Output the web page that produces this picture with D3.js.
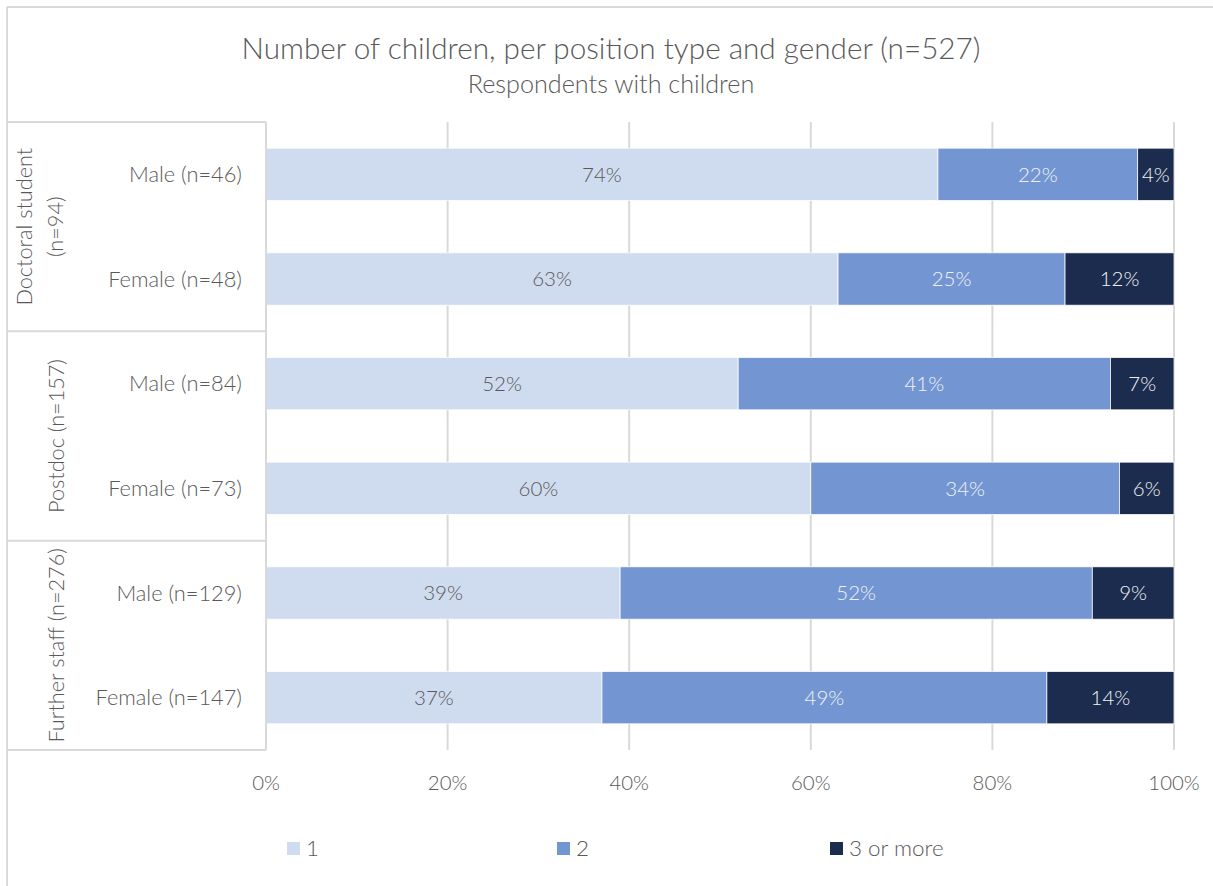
<!DOCTYPE html>
<html>
<head>
<meta charset="utf-8">
<script src="https://cdn.jsdelivr.net/npm/d3@7"></script>
<style>
  html, body { margin: 0; padding: 0; background: #fff; }
  svg { display: block; }
  text { font-family: "Source Sans Pro", Lato, "Open Sans", sans-serif; font-weight: 300; }
</style>
</head>
<body>
<svg id="chart" width="1213" height="886"></svg>
<script>
// Position groups and the gender rows within each group
const groups = ["Doctoral student (n=94)", "Postdoc (n=157)", "Further staff (n=276)"];
const groupLines = [["Doctoral student", "(n=94)"], ["Postdoc (n=157)"], ["Further staff (n=276)"]];
const rows = [
  "Male (n=46)", "Female (n=48)",
  "Male (n=84)", "Female (n=73)",
  "Male (n=129)", "Female (n=147)"
];
const rowGroup = [0, 0, 1, 1, 2, 2];

// Share of respondents by number of children (percent)
const seriesNames = ["1", "2", "3 or more"];
const one       = [74, 63, 52, 60, 39, 37];
const two       = [22, 25, 41, 34, 52, 49];
const threePlus = [4, 12, 7, 6, 9, 14];

const xTicks = [0, 20, 40, 60, 80, 100];

const colors = ["#CFDCEF", "#7396D2", "#1B2C4E"];
const labelColors = ["#595959", "#F2F2F2", "#F2F2F2"];

const svg = d3.select("#chart");
const W = 1213, H = 886;
const textColor = "#595959";
const lineColor = "#D9D9D9";

// Outer chart frame (only top and left edges are visible)
svg.append("line").attr("x1", 7).attr("x2", W).attr("y1", 7).attr("y2", 7)
  .attr("stroke", lineColor).attr("stroke-width", 2);
svg.append("line").attr("x1", 7).attr("x2", 7).attr("y1", 7).attr("y2", H)
  .attr("stroke", lineColor).attr("stroke-width", 2);

// Title
svg.append("text").attr("x", 611).attr("y", 59).attr("text-anchor", "middle")
  .attr("font-size", 29.7).attr("fill", textColor)
  .text("Number of children, per position type and gender (n=527)");
svg.append("text").attr("x", 611).attr("y", 93).attr("text-anchor", "middle")
  .attr("font-size", 25.2).attr("fill", textColor)
  .text("Respondents with children");

const plotLeft = 266, plotRight = 1174, plotTop = 122, plotBottom = 750;

const x = d3.scaleLinear().domain([0, 100]).range([plotLeft, plotRight]);
const y = d3.scaleBand().domain(d3.range(rows.length)).range([plotTop, plotBottom]).paddingInner(0.5).paddingOuter(0.25);

// Gridlines
svg.append("g").selectAll("line").data(xTicks.slice(1)).join("line")
  .attr("x1", d => x(d)).attr("x2", d => x(d))
  .attr("y1", plotTop).attr("y2", plotBottom)
  .attr("stroke", lineColor).attr("stroke-width", 2);

// Stacked bars
const table = rows.map((r, i) => ({ row: i, "1": one[i], "2": two[i], "3 or more": threePlus[i] }));
const stacked = d3.stack().keys(seriesNames)(table);

const barG = svg.append("g");
stacked.forEach((layer, k) => {
  const g = barG.append("g");
  g.selectAll("rect").data(layer).join("rect")
    .attr("x", d => x(d[0]))
    .attr("y", (d, i) => y(i))
    .attr("width", d => x(d[1]) - x(d[0]))
    .attr("height", y.bandwidth())
    .attr("fill", colors[k])
    .attr("stroke", "#fff").attr("stroke-width", 0.75);
  g.selectAll("text").data(layer).join("text")
    .attr("x", d => (x(d[0]) + x(d[1])) / 2)
    .attr("y", (d, i) => y(i) + y.bandwidth() / 2)
    .attr("dy", "0.35em")
    .attr("text-anchor", "middle")
    .attr("font-size", 20.5)
    .attr("fill", labelColors[k])
    .text(d => (d[1] - d[0]) + "%");
});

// Category axis: box lines and labels
const axisG = svg.append("g");
const groupEdges = [plotTop];
groups.forEach((g, gi) => {
  const idx = rowGroup.map((v, i) => v === gi ? i : -1).filter(i => i >= 0);
  const last = idx[idx.length - 1];
  groupEdges.push(y(last) + y.bandwidth() + y.step() * y.paddingInner() / 2);
});
groupEdges[groupEdges.length - 1] = plotBottom;

axisG.selectAll("line.sep").data(groupEdges).join("line")
  .attr("class", "sep")
  .attr("x1", 7).attr("x2", plotLeft)
  .attr("y1", d => d).attr("y2", d => d)
  .attr("stroke", lineColor).attr("stroke-width", 2);
axisG.append("line").attr("x1", plotLeft).attr("x2", plotLeft)
  .attr("y1", plotTop).attr("y2", plotBottom)
  .attr("stroke", lineColor).attr("stroke-width", 2);

axisG.selectAll("text.row").data(rows).join("text")
  .attr("class", "row")
  .attr("x", 242)
  .attr("y", (d, i) => y(i) + y.bandwidth() / 2)
  .attr("dy", "0.35em")
  .attr("text-anchor", "end")
  .attr("font-size", 21.8)
  .attr("fill", textColor)
  .text(d => d);

groupLines.forEach((lines, gi) => {
  const cy = (groupEdges[gi] + groupEdges[gi + 1]) / 2;
  const cx = lines.length > 1 ? 40 : 56;
  const lh = 31;
  const t = axisG.append("text")
    .attr("transform", `translate(${cx},${cy}) rotate(-90)`)
    .attr("text-anchor", "middle")
    .attr("font-size", 21.7)
    .attr("fill", textColor);
  lines.forEach((ln, li) => {
    t.append("tspan")
      .attr("x", 0)
      .attr("y", (li - (lines.length - 1) / 2) * lh)
      .attr("dy", "0.35em")
      .text(ln);
  });
});

// Value axis labels
svg.append("g").selectAll("text").data(xTicks).join("text")
  .attr("x", d => x(d))
  .attr("y", 783)
  .attr("dy", "0.35em")
  .attr("text-anchor", "middle")
  .attr("font-size", 20.4)
  .attr("fill", textColor)
  .text(d => d + "%");

// Legend
const legendX = [287, 557, 830];
const lg = svg.append("g");
seriesNames.forEach((s, k) => {
  lg.append("rect").attr("x", legendX[k]).attr("y", 842).attr("width", 13).attr("height", 13)
    .attr("fill", colors[k]);
  lg.append("text").attr("x", legendX[k] + 19).attr("y", 848.5).attr("dy", "0.35em")
    .attr("font-size", 22.4).attr("fill", textColor).text(s);
});
</script>
</body>
</html>
